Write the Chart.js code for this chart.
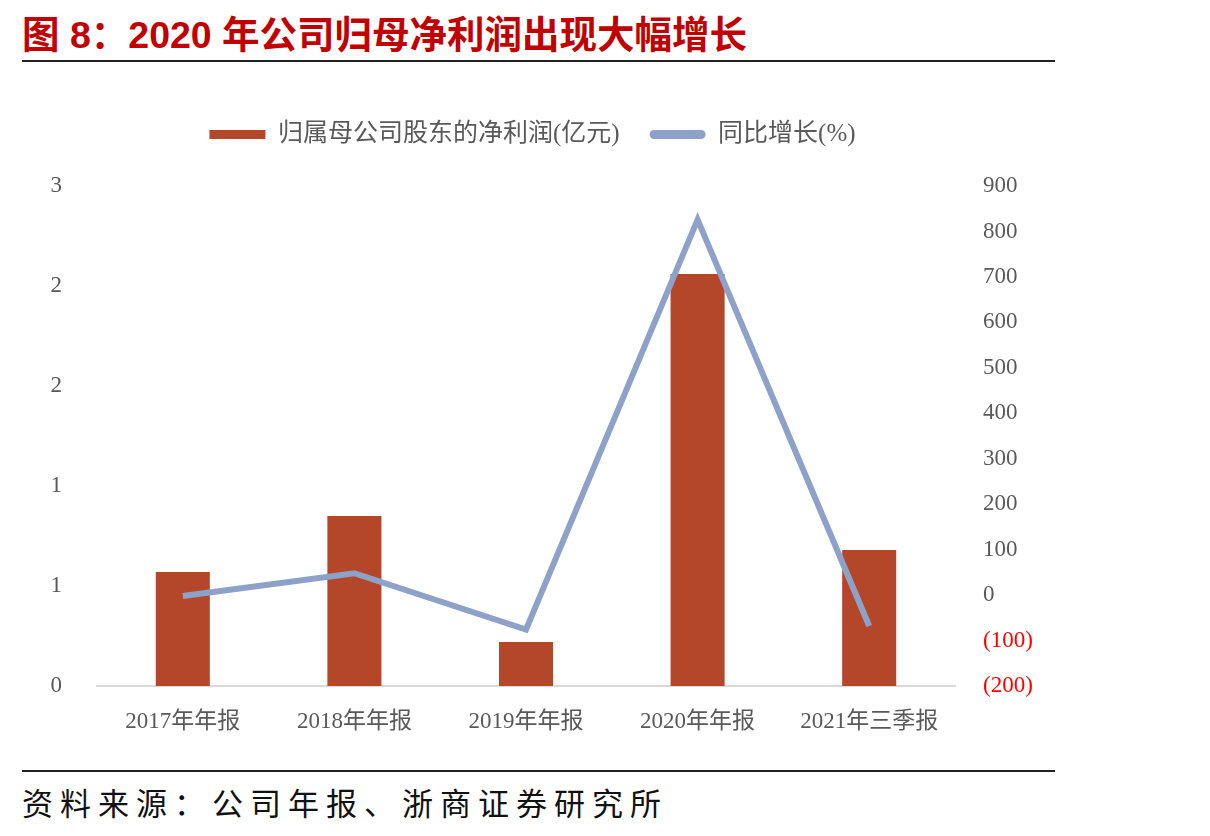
<!DOCTYPE html>
<html lang="zh-CN">
<head>
    <meta charset="UTF-8">
    <title>图 8</title>
    <script src="https://cdn.jsdelivr.net/npm/chart.js"></script>
    <style>
        body {
            margin: 0;
            width: 1210px;
            height: 836px;
            background: #fff;
            position: relative;
            overflow: hidden;
        }
        .title {
            position: absolute;
            left: 22px;
            top: 4px;
            font-family: "Liberation Sans", "Noto Sans CJK SC", sans-serif;
            font-weight: bold;
            font-size: 37.5px;
            color: #c00000;
            white-space: nowrap;
        }
        .rule {
            position: absolute;
            left: 22px;
            width: 1033px;
            height: 2px;
            background: #222;
        }
        .source {
            position: absolute;
            left: 22px;
            top: 779px;
            font-family: "Noto Sans CJK SC", sans-serif;
            font-size: 31px;
            letter-spacing: 7px;
            color: #111;
            white-space: nowrap;
        }
        .chart-box {
            position: absolute;
            left: 0;
            top: 92px;
            width: 1100px;
            height: 668px;
        }
    </style>
</head>
<body>
    <div class="title">图 8：2020 年公司归母净利润出现大幅增长</div>
    <div class="rule" style="top:60px"></div>
    <div class="chart-box"><canvas id="profitChart"></canvas></div>
    <div class="rule" style="top:770px"></div>
    <div class="source">资料来源：公司年报、浙商证券研究所</div>

    <script>
        // values
        const periods = ['2017年年报', '2018年年报', '2019年年报', '2020年年报', '2021年三季报'];
        const netProfit = [0.57, 0.85, 0.22, 2.06, 0.68];   // 亿元
        const yoyGrowth = [-2, 48, -76, 826, -68];            // %

        const barColor = '#b4472a';
        const lineColor = '#8ea1c8';
        const tickFont = { family: '"Liberation Serif", "Noto Sans CJK SC", serif', size: 23 };
        const legendFont = { family: '"Liberation Serif", "Noto Sans CJK SC", serif', size: 25 };

        // leave some room between the legend and the plot
        const legendGap = {
            id: 'legendGap',
            beforeUpdate(chart) {
                const legend = chart.legend;
                if (!legend || legend._gapPatched) return;
                const fit = legend.fit;
                legend.fit = function () {
                    fit.call(this);
                    this.height += 29;
                };
                legend._gapPatched = true;
            }
        };

        const ctx = document.getElementById('profitChart').getContext('2d');

        new Chart(ctx, {
            data: {
                labels: periods,
                datasets: [
                    {
                        type: 'line',
                        label: '同比增长(%)',
                        data: yoyGrowth,
                        yAxisID: 'yRight',
                        borderColor: lineColor,
                        backgroundColor: lineColor,
                        borderWidth: 6,
                        pointRadius: 0,
                        tension: 0,
                        order: 0
                    },
                    {
                        type: 'bar',
                        label: '归属母公司股东的净利润(亿元)',
                        data: netProfit,
                        yAxisID: 'yLeft',
                        backgroundColor: barColor,
                        categoryPercentage: 1,
                        barPercentage: 0.315,
                        order: 1
                    }
                ]
            },
            plugins: [legendGap],
            options: {
                responsive: true,
                maintainAspectRatio: false,
                animation: false,
                layout: { padding: { left: 10, right: 45, top: 0, bottom: 0 } },
                plugins: {
                    tooltip: { enabled: false },
                    legend: {
                        position: 'top',
                        reverse: true,
                        labels: {
                            font: legendFont,
                            color: '#595959',
                            boxWidth: 56,
                            boxHeight: 9,
                            padding: 30,
                            useBorderRadius: true,
                            generateLabels(chart) {
                                return chart.data.datasets.map((ds, i) => ({
                                    text: ds.label,
                                    fillStyle: ds.type === 'bar' ? barColor : lineColor,
                                    strokeStyle: ds.type === 'bar' ? barColor : lineColor,
                                    lineWidth: 0,
                                    borderRadius: ds.type === 'bar' ? 0 : 4.5,
                                    fontColor: '#595959',
                                    datasetIndex: i,
                                    hidden: false
                                }));
                            }
                        }
                    }
                },
                scales: {
                    x: {
                        grid: { display: false, drawTicks: false },
                        border: { display: true, color: '#d9d9d9', width: 2 },
                        ticks: { font: tickFont, color: '#595959', padding: 22, maxRotation: 0 },
                        afterFit(scale) { scale.height = 74; }
                    },
                    yLeft: {
                        position: 'left',
                        min: 0,
                        max: 2.5,
                        grid: { display: false, drawTicks: false },
                        border: { display: false },
                        ticks: {
                            stepSize: 0.5,
                            font: tickFont,
                            color: '#595959',
                            padding: 35,
                            callback: v => Math.round(v)
                        },
                        afterFit(scale) { scale.width = 87; }
                    },
                    yRight: {
                        position: 'right',
                        min: -200,
                        max: 900,
                        grid: { display: false, drawTicks: false },
                        border: { display: false },
                        ticks: {
                            stepSize: 100,
                            font: tickFont,
                            padding: 28,
                            color: c => c.tick && c.tick.value < 0 ? '#ff0000' : '#595959',
                            callback: v => v < 0 ? '(' + (-v) + ')' : v
                        },
                        afterFit(scale) { scale.width = 100; }
                    }
                }
            }
        });
    </script>
</body>
</html>
